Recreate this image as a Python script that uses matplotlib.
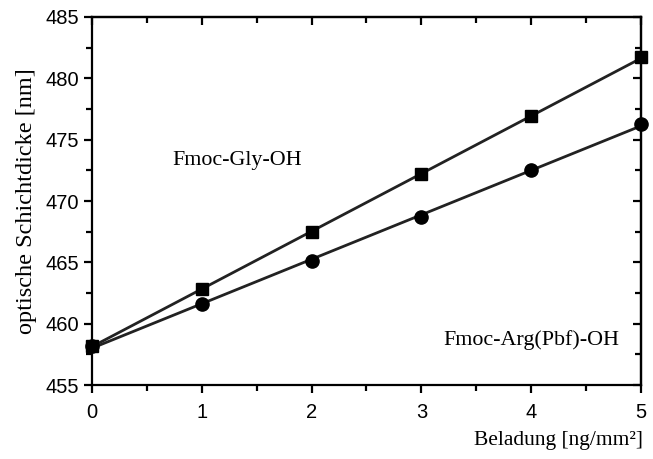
import numpy as np
import matplotlib
matplotlib.use("Agg")
import matplotlib.pyplot as plt
from matplotlib.ticker import MultipleLocator

loading = [0, 1, 2, 3, 4, 5]
gly = [458.2, 462.8, 467.5, 472.2, 476.9, 481.7]
arg = [458.2, 461.6, 465.1, 468.7, 472.5, 476.3]

fig = plt.figure(figsize=(6.53, 4.59), dpi=100)
ax = fig.add_axes([0.1409, 0.161, 0.8407, 0.802])

xfit = np.array([loading[0], loading[-1]], dtype=float)
for ys, mk, ms in [(gly, "s", 8.5), (arg, "o", 9.5)]:
    k, d = np.polyfit(loading, ys, 1)
    ax.plot(xfit, k * xfit + d, color="#222222", lw=2.0, zorder=2)
    ax.plot(loading, ys, ls="none", marker=mk, ms=ms, color="black",
            zorder=3, clip_on=False)

ax.set_xlim(0, 5)
ax.set_ylim(455, 485)

for s in ax.spines.values():
    s.set_linewidth(1.6)

def style_axis(a, x_loc, y_loc):
    a.xaxis.set_major_locator(MultipleLocator(1))
    a.xaxis.set_minor_locator(MultipleLocator(0.5))
    a.yaxis.set_major_locator(MultipleLocator(5))
    a.yaxis.set_minor_locator(MultipleLocator(2.5))

style_axis(ax, None, None)
ax.tick_params(which="both", direction="out", width=1.6, labelsize=14.5)
ax.tick_params(which="major", length=6)
ax.tick_params(which="minor", length=4)
ax.tick_params(axis="x", pad=7)

# inward ticks on the top and right frame
top = ax.secondary_xaxis("top")
top.xaxis.set_major_locator(MultipleLocator(1))
top.xaxis.set_minor_locator(MultipleLocator(0.5))
top.tick_params(which="both", direction="in", width=1.6, labeltop=False)
top.tick_params(which="major", length=6)
top.tick_params(which="minor", length=4)
top.spines["top"].set_linewidth(1.6)
right = ax.secondary_yaxis("right")
right.yaxis.set_major_locator(MultipleLocator(5))
right.yaxis.set_minor_locator(MultipleLocator(2.5))
right.tick_params(which="both", direction="in", width=1.6, labelright=False)
right.tick_params(which="major", length=6)
right.tick_params(which="minor", length=4)
right.spines["right"].set_linewidth(1.6)

for lab in ax.get_xticklabels() + ax.get_yticklabels():
    lab.set_family("Liberation Sans")

serif = "Liberation Serif"
ax.set_ylabel("optische Schichtdicke [nm]", family=serif, fontsize=17.5, labelpad=6)
fig.text(0.985, 0.04, "Beladung [ng/mm²]", family=serif, fontsize=15.5,
         ha="right", va="center")
ax.text(0.73, 473.3, "Fmoc-Gly-OH", family=serif, fontsize=15.8, va="center")
ax.text(3.2, 458.7, "Fmoc-Arg(Pbf)-OH", family=serif, fontsize=15.8, va="center")

fig.savefig("out.png", dpi=100)
